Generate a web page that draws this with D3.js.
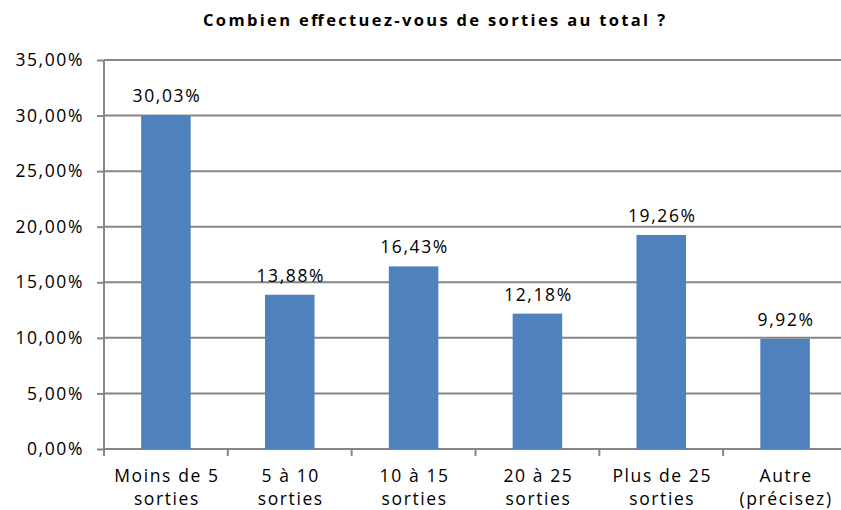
<!DOCTYPE html>
<html>
<head>
<meta charset="utf-8">
<script src="https://cdnjs.cloudflare.com/ajax/libs/d3/7.8.5/d3.min.js"></script>
<style>
  body { margin: 0; background: #fff; }
  text { font-family: "Open Sans", sans-serif; fill: #000; }
</style>
</head>
<body>
<div id="chart"></div>
<script>
const categories = [["Moins de 5", "sorties"], ["5 à 10", "sorties"], ["10 à 15", "sorties"],
  ["20 à 25", "sorties"], ["Plus de 25", "sorties"], ["Autre", "(précisez)"]]
const values = [30.03, 13.88, 16.43, 12.18, 19.26, 9.92]
const yTicks = [0, 5, 10, 15, 20, 25, 30, 35]

const W = 841, H = 510
const MARGIN = { LEFT: 104, RIGHT: -6, TOP: 60, BOTTOM: 61 }
const WIDTH = W - MARGIN.LEFT - MARGIN.RIGHT
const HEIGHT = H - MARGIN.TOP - MARGIN.BOTTOM
const GRAY = "#868686"
const FONT = "17.5px"
const SPACING = "1.6px"

const svg = d3.select("#chart").append("svg")
  .attr("width", W)
  .attr("height", H)

svg.append("text")
  .attr("x", 434)
  .attr("y", 26)
  .attr("text-anchor", "middle")
  .attr("font-size", "16.5px")
  .attr("font-weight", "bold")
  .attr("textLength", 462)
  .attr("lengthAdjust", "spacing")
  .text("Combien effectuez-vous de sorties au total ?")

const g = svg.append("g")
  .attr("transform", `translate(${MARGIN.LEFT}, ${MARGIN.TOP})`)

// Scales
const x = d3.scaleBand()
  .domain(d3.range(categories.length))
  .range([0, WIDTH])
  .paddingInner(0.6)
  .paddingOuter(0.3)
const y = d3.scaleLinear()
  .domain([0, 35])
  .range([HEIGHT, 0])

const fmt = v => d3.format(".2f")(v).replace(".", ",") + "%"

// gridlines
g.selectAll(".grid").data(yTicks.slice(1)).enter().append("line")
  .attr("x1", 0).attr("x2", WIDTH)
  .attr("y1", d => y(d)).attr("y2", d => y(d))
  .attr("stroke", GRAY).attr("stroke-width", 2)

// Y axis
const yAxis = g.append("g")
  .call(d3.axisLeft(y).tickValues(yTicks).tickSize(7).tickPadding(13).tickFormat(fmt))
yAxis.selectAll("path, line").attr("stroke", GRAY).attr("stroke-width", 2)
yAxis.select(".domain").attr("d", `M0,${HEIGHT}V0`)
yAxis.selectAll("text").attr("font-size", FONT).attr("letter-spacing", SPACING)
  .attr("font-family", "Open Sans")

// X axis
const step = WIDTH / categories.length
const xAxis = g.append("g").attr("transform", `translate(0, ${HEIGHT})`)
xAxis.append("line").attr("x1", 0).attr("x2", WIDTH)
  .attr("stroke", GRAY).attr("stroke-width", 2)
xAxis.selectAll(".tick").data(d3.range(categories.length + 1)).enter().append("line")
  .attr("x1", d => d * step).attr("x2", d => d * step)
  .attr("y1", 0).attr("y2", 7)
  .attr("stroke", GRAY).attr("stroke-width", 2)
const labels = xAxis.selectAll(".lbl").data(categories).enter().append("text")
  .attr("text-anchor", "middle")
  .attr("font-size", FONT)
  .attr("letter-spacing", SPACING)
  .attr("transform", (d, i) => `translate(${x(i) + x.bandwidth() / 2 + 1}, 0)`)
labels.append("tspan").attr("x", 0).attr("y", 33).text(d => d[0])
labels.append("tspan").attr("x", 0).attr("y", 56).text(d => d[1])

// Bars
g.selectAll("rect").data(values).enter().append("rect")
  .attr("x", (d, i) => x(i))
  .attr("y", d => y(d))
  .attr("width", x.bandwidth())
  .attr("height", d => HEIGHT - y(d))
  .attr("fill", "#4F81BD")

// Value labels
g.selectAll(".val").data(values).enter().append("text")
  .attr("x", (d, i) => x(i) + x.bandwidth() / 2 + 1)
  .attr("y", d => y(d) - 13)
  .attr("text-anchor", "middle")
  .attr("font-size", FONT)
  .attr("letter-spacing", SPACING)
  .text(fmt)
</script>
</body>
</html>
